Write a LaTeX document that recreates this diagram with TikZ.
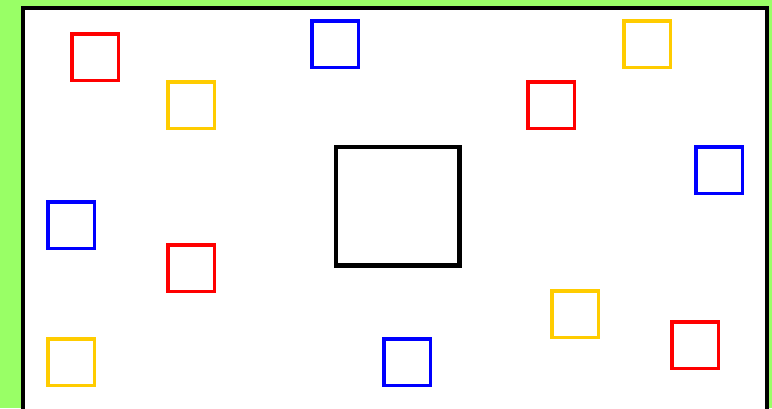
\documentclass[tikz,border=0pt]{standalone}
\usepackage{tikz}

\definecolor{bggreen}{RGB}{153,255,102}
\definecolor{boxyellow}{RGB}{255,204,0}

\begin{document}
\begin{tikzpicture}[x=1pt, y=-1pt,
  tile/.style={draw, line width=3.5pt, minimum size=46.5pt, inner sep=0pt},
  centrebox/.style={draw=black, line width=4.5pt, minimum width=123.5pt,
    minimum height=118.5pt, inner sep=0pt},
  frame/.style={draw=black, line width=4pt, fill=white}
]

%% --- page and green background ---
\useasboundingbox (0,0) rectangle (772,408);
\fill[bggreen] (0,0) rectangle (772,408);

%% --- framed white field (bottom edge runs off the page) ---
\begin{scope}
  \clip (0,0) rectangle (772,408);
  \draw[frame] (23,8) rectangle (767,424);
\end{scope}

%% --- central square ---
\node[centrebox] (centre) at (397.5,206) {};

%% --- red squares ---
\node[tile, red] (redA) at (95,57)   {};
\node[tile, red] (redB) at (551,105) {};
\node[tile, red] (redC) at (191,268) {};
\node[tile, red] (redD) at (695,345) {};

%% --- blue squares ---
\node[tile, blue] (blueA) at (335,44)  {};
\node[tile, blue] (blueB) at (719,170) {};
\node[tile, blue] (blueC) at (71,225)  {};
\node[tile, blue] (blueD) at (407,362) {};

%% --- yellow squares ---
\node[tile, boxyellow] (yellowA) at (191,105) {};
\node[tile, boxyellow] (yellowB) at (647,44)  {};
\node[tile, boxyellow] (yellowC) at (575,314) {};
\node[tile, boxyellow] (yellowD) at (71,362)  {};

\end{tikzpicture}
\end{document}
